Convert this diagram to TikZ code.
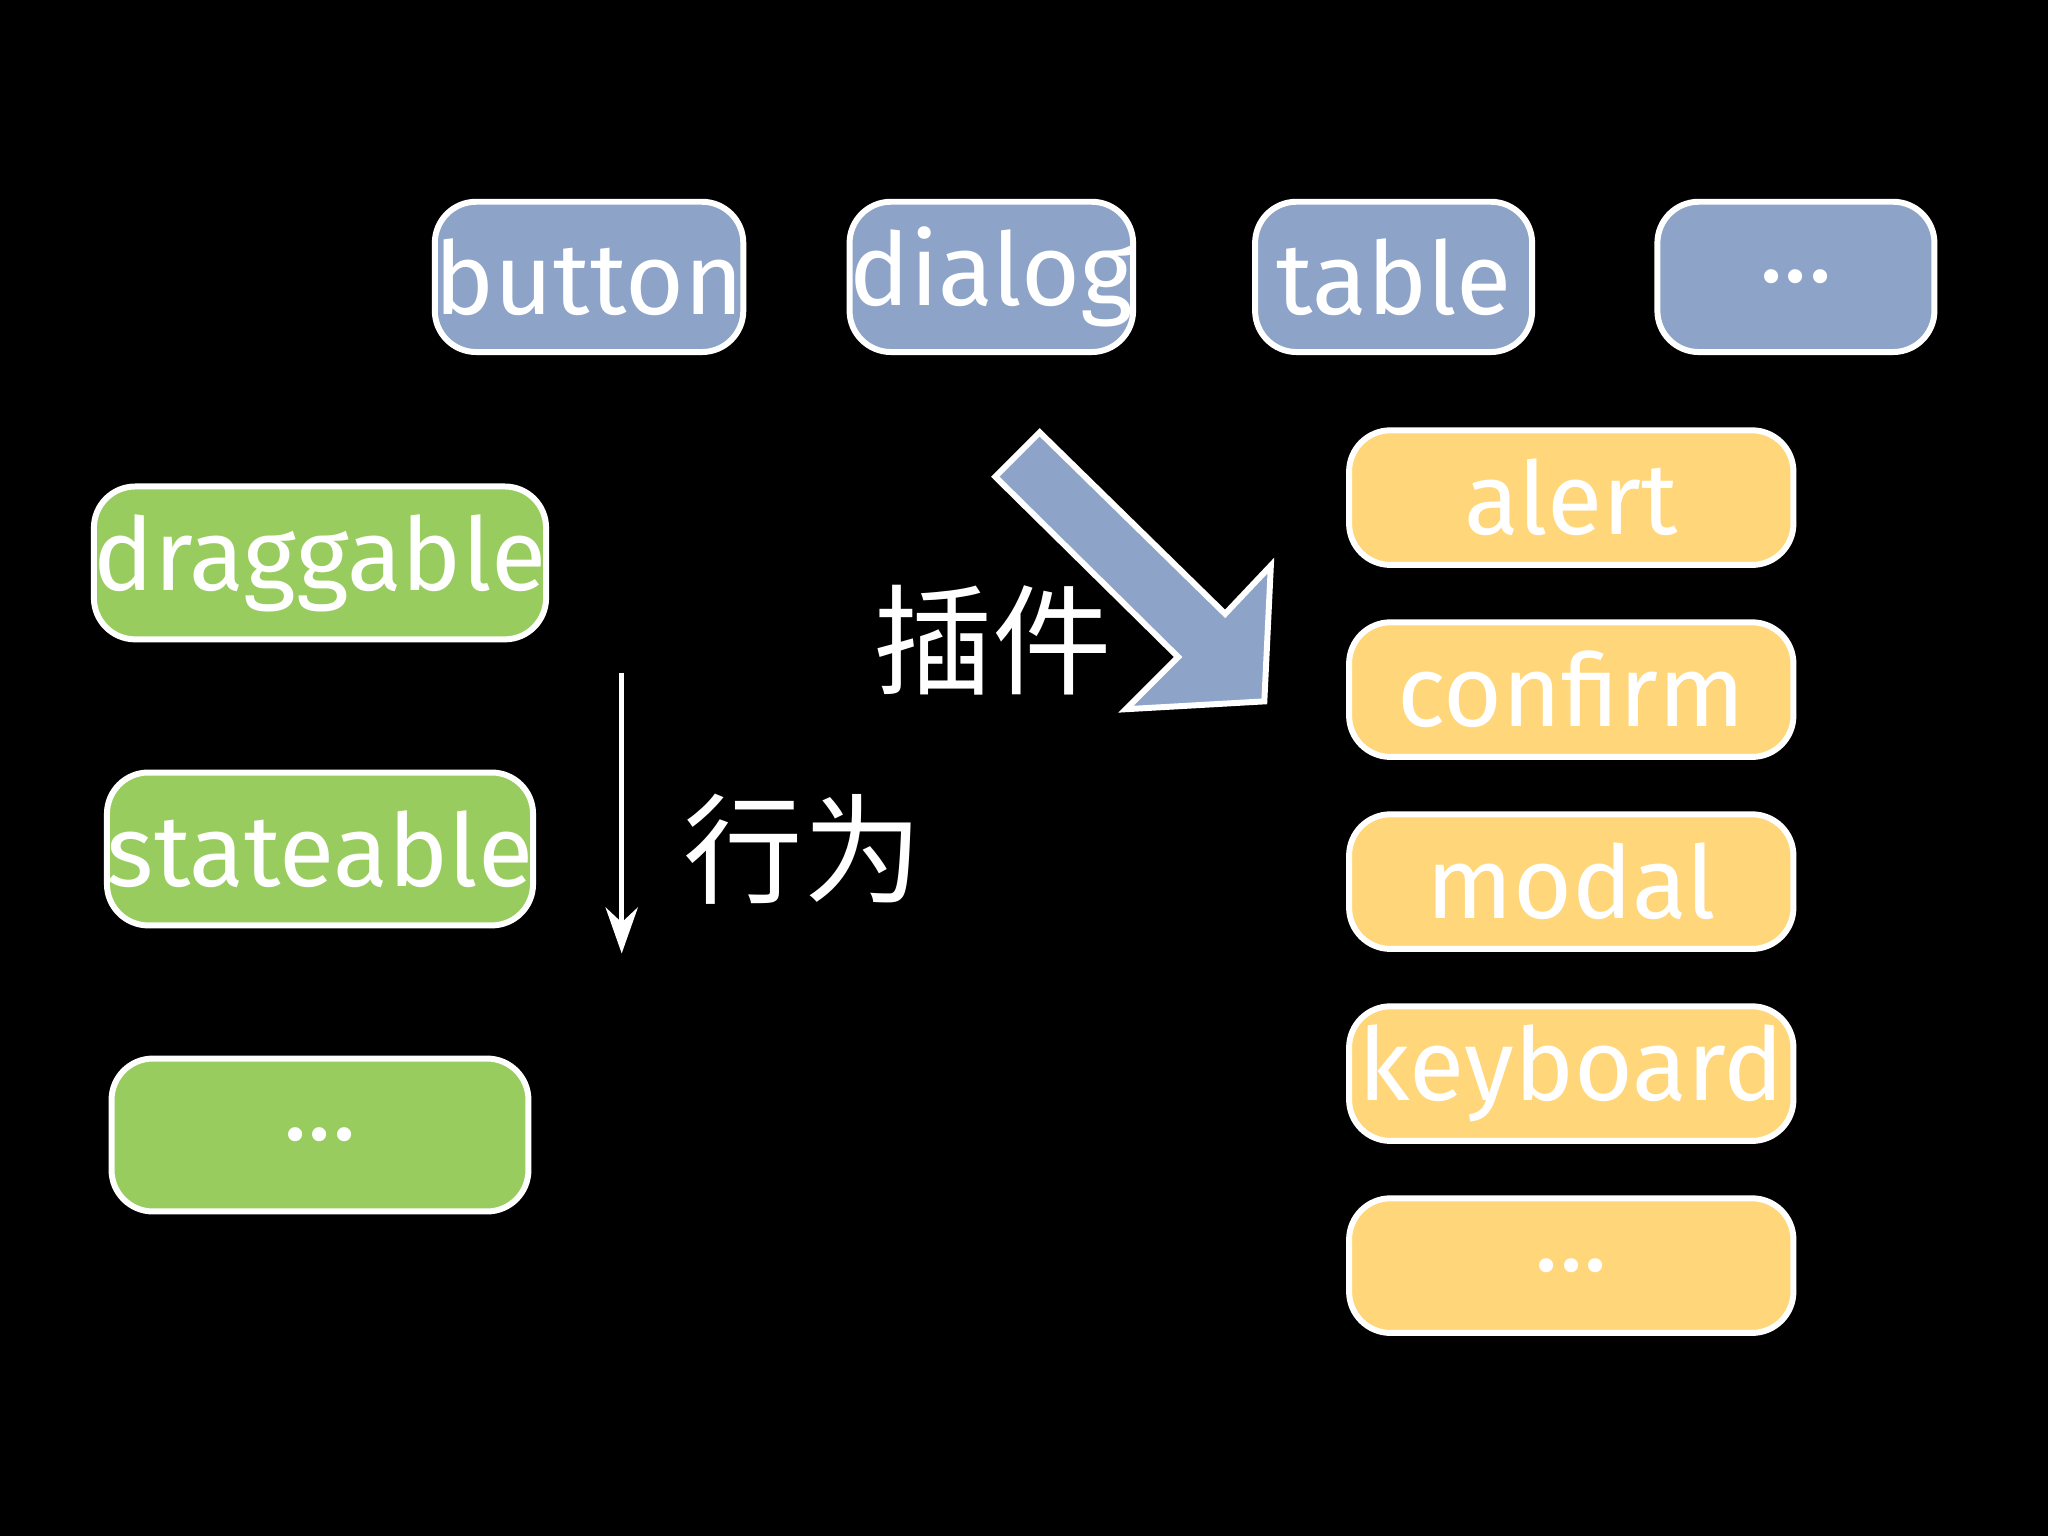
\documentclass[tikz,border=0pt]{standalone}
\usetikzlibrary{arrows.meta}
\usepackage{fontspec}
\setmainfont{Fira Sans}
\newfontfamily\cjk{Noto Sans CJK SC}
\begin{document}
\begin{tikzpicture}[x=0.01cm,y=-0.01cm,
 box/.style={draw=white,line width=1.3pt,rounded corners=9pt,inner sep=0pt,font=\fontsize{22}{26}\selectfont,text=white},
 bl/.style={box,fill={rgb,255:red,141;green,163;blue,200}},
 gr/.style={box,fill={rgb,255:red,153;green,204;blue,95}},
 ye/.style={box,fill={rgb,255:red,255;green,214;blue,122}},
 lab/.style={text=white,font=\cjk\fontsize{26}{30}\selectfont}]
\fill[black] (0,0) rectangle (1568,1176);
\useasboundingbox (0,0) rectangle (1568,1176);
\node[bl,minimum width=2.12cm,minimum height=1.15cm] (b1) at (451,212) {button};
\node[bl,minimum width=2.12cm,minimum height=1.15cm] (b2) at (759,212) {dialog};
\node[bl,minimum width=2.12cm,minimum height=1.15cm] (b3) at (1067,212) {table};
\node[bl,minimum width=2.12cm,minimum height=1.15cm] (b4) at (1375,212) {...};
\node[gr,minimum width=3.19cm,minimum height=1.17cm] (g1) at (245,431) {draggable};
\node[gr,minimum width=3.19cm,minimum height=1.17cm] (g2) at (245,650) {stateable};
\node[gr,minimum width=3.19cm,minimum height=1.17cm] (g3) at (245,869) {...};
\node[ye,minimum width=3.4cm,minimum height=1.03cm] (y1) at (1203,381) {alert};
\node[ye,minimum width=3.4cm,minimum height=1.03cm] (y2) at (1203,528) {confirm};
\node[ye,minimum width=3.4cm,minimum height=1.03cm] (y3) at (1203,675) {modal};
\node[ye,minimum width=3.4cm,minimum height=1.03cm] (y4) at (1203,822) {keyboard};
\node[ye,minimum width=3.4cm,minimum height=1.03cm] (y5) at (1203,969) {...};
\coordinate (a1) at (476,515); \coordinate (a2) at (476,730);
\draw[white,line width=1.2pt,-{Stealth[length=10pt,width=7pt]}] (a1) -- (a2);
\node[lab] (l1) at (615,650) {行为};
\node[lab] (l2) at (760,490) {插件};
\draw[white,line width=1.3pt,fill={rgb,255:red,141;green,163;blue,200}]
 (796,331) -- (938,470) -- (973,433) -- (968,537) -- (862,543) -- (902,503) -- (762,365) -- cycle;
\end{tikzpicture}
\end{document}
